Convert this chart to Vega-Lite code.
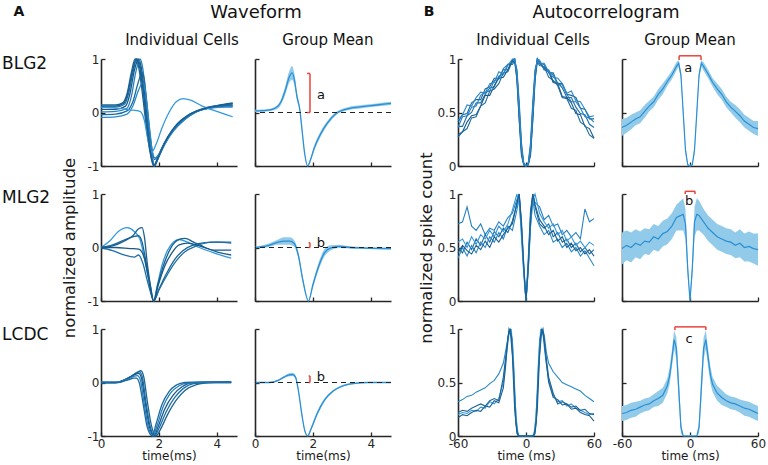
{
"$schema":"https://vega.github.io/schema/vega-lite/v6.json",
"background":"white",
"padding":{"left":2,"top":3,"right":5,"bottom":3},
"config":{"view":{"stroke":null},"font":"DejaVu Sans",
"axis":{"grid":false,"domainColor":"#262626","domainWidth":1.6,"tickColor":"#262626","tickWidth":1.3,"tickSize":-4,"labelColor":"#262626","labelFontSize":12,"labelFont":"DejaVu Sans","labelFlush":false,"labelOverlap":false,"labelBound":false,"titleFont":"DejaVu Sans","titleFontWeight":"normal","titleColor":"#1a1a1a","titleFontSize":12},
"axisX":{"titlePadding":1,"labelPadding":6},"axisY":{"titleFontSize":16.5,"labelPadding":6},"text":{"font":"DejaVu Sans"}},
"datasets":{
"w1":[
{"s":"c1","t":0,"v":0.14},{"s":"c1","t":0.5,"v":0.14},{"s":"c1","t":0.75,"v":0.18},{"s":"c1","t":0.9,"v":0.35},{"s":"c1","t":1.05,"v":0.75},{"s":"c1","t":1.18,"v":1.0},{"s":"c1","t":1.3,"v":0.85},{"s":"c1","t":1.42,"v":0.4},{"s":"c1","t":1.55,"v":-0.2},{"s":"c1","t":1.68,"v":-0.7},{"s":"c1","t":1.82,"v":-1.0},{"s":"c1","t":1.92,"v":-0.9},{"s":"c1","t":2.07,"v":-0.7},{"s":"c1","t":2.3,"v":-0.46},{"s":"c1","t":2.6,"v":-0.23},{"s":"c1","t":3.0,"v":-0.05},{"s":"c1","t":3.5,"v":0.07},{"s":"c1","t":4.0,"v":0.13},{"s":"c1","t":4.55,"v":0.18},
{"s":"c2","t":0,"v":0.1},{"s":"c2","t":0.5,"v":0.1},{"s":"c2","t":0.8,"v":0.15},{"s":"c2","t":0.95,"v":0.35},{"s":"c2","t":1.1,"v":0.75},{"s":"c2","t":1.24,"v":1.0},{"s":"c2","t":1.36,"v":0.85},{"s":"c2","t":1.48,"v":0.35},{"s":"c2","t":1.6,"v":-0.25},{"s":"c2","t":1.72,"v":-0.75},{"s":"c2","t":1.84,"v":-1.0},{"s":"c2","t":1.95,"v":-0.88},{"s":"c2","t":2.1,"v":-0.68},{"s":"c2","t":2.35,"v":-0.44},{"s":"c2","t":2.7,"v":-0.2},{"s":"c2","t":3.1,"v":-0.03},{"s":"c2","t":3.6,"v":0.08},{"s":"c2","t":4.1,"v":0.13},{"s":"c2","t":4.55,"v":0.16},
{"s":"c3","t":0,"v":0.06},{"s":"c3","t":0.5,"v":0.06},{"s":"c3","t":0.85,"v":0.12},{"s":"c3","t":1.0,"v":0.35},{"s":"c3","t":1.15,"v":0.78},{"s":"c3","t":1.3,"v":1.0},{"s":"c3","t":1.4,"v":0.82},{"s":"c3","t":1.5,"v":0.4},{"s":"c3","t":1.62,"v":-0.2},{"s":"c3","t":1.74,"v":-0.72},{"s":"c3","t":1.84,"v":-0.98},{"s":"c3","t":1.97,"v":-0.86},{"s":"c3","t":2.15,"v":-0.64},{"s":"c3","t":2.4,"v":-0.4},{"s":"c3","t":2.75,"v":-0.18},{"s":"c3","t":3.15,"v":-0.02},{"s":"c3","t":3.6,"v":0.07},{"s":"c3","t":4.1,"v":0.12},{"s":"c3","t":4.55,"v":0.14},
{"s":"c4","t":0,"v":0.01},{"s":"c4","t":0.5,"v":0.02},{"s":"c4","t":0.9,"v":0.08},{"s":"c4","t":1.05,"v":0.3},{"s":"c4","t":1.2,"v":0.75},{"s":"c4","t":1.35,"v":1.0},{"s":"c4","t":1.45,"v":0.8},{"s":"c4","t":1.55,"v":0.3},{"s":"c4","t":1.66,"v":-0.3},{"s":"c4","t":1.76,"v":-0.8},{"s":"c4","t":1.85,"v":-1.0},{"s":"c4","t":1.98,"v":-0.85},{"s":"c4","t":2.2,"v":-0.6},{"s":"c4","t":2.5,"v":-0.35},{"s":"c4","t":2.85,"v":-0.15},{"s":"c4","t":3.25,"v":0.0},{"s":"c4","t":3.7,"v":0.08},{"s":"c4","t":4.2,"v":0.12},{"s":"c4","t":4.55,"v":0.13},
{"s":"c5","t":0,"v":-0.04},{"s":"c5","t":0.5,"v":-0.03},{"s":"c5","t":0.9,"v":0.03},{"s":"c5","t":1.1,"v":0.2},{"s":"c5","t":1.28,"v":0.55},{"s":"c5","t":1.42,"v":0.75},{"s":"c5","t":1.5,"v":0.6},{"s":"c5","t":1.58,"v":0.2},{"s":"c5","t":1.68,"v":-0.35},{"s":"c5","t":1.78,"v":-0.75},{"s":"c5","t":1.85,"v":-0.88},{"s":"c5","t":1.98,"v":-0.8},{"s":"c5","t":2.2,"v":-0.58},{"s":"c5","t":2.5,"v":-0.33},{"s":"c5","t":2.9,"v":-0.12},{"s":"c5","t":3.3,"v":0.02},{"s":"c5","t":3.8,"v":0.09},{"s":"c5","t":4.3,"v":0.12},{"s":"c5","t":4.55,"v":0.12},
{"s":"c6","t":0,"v":-0.09},{"s":"c6","t":0.5,"v":-0.08},{"s":"c6","t":0.9,"v":-0.03},{"s":"c6","t":1.1,"v":0.12},{"s":"c6","t":1.3,"v":0.42},{"s":"c6","t":1.44,"v":0.56},{"s":"c6","t":1.52,"v":0.45},{"s":"c6","t":1.6,"v":0.1},{"s":"c6","t":1.7,"v":-0.4},{"s":"c6","t":1.8,"v":-0.8},{"s":"c6","t":1.87,"v":-0.85},{"s":"c6","t":2.0,"v":-0.78},{"s":"c6","t":2.2,"v":-0.58},{"s":"c6","t":2.5,"v":-0.34},{"s":"c6","t":2.9,"v":-0.13},{"s":"c6","t":3.3,"v":0.01},{"s":"c6","t":3.8,"v":0.08},{"s":"c6","t":4.3,"v":0.1},{"s":"c6","t":4.55,"v":0.1},
{"s":"c7","t":0,"v":0.1},{"s":"c7","t":0.5,"v":0.08},{"s":"c7","t":1.0,"v":0.05},{"s":"c7","t":1.35,"v":0.02},{"s":"c7","t":1.5,"v":-0.15},{"s":"c7","t":1.62,"v":-0.5},{"s":"c7","t":1.75,"v":-0.74},{"s":"c7","t":1.9,"v":-0.6},{"s":"c7","t":2.1,"v":-0.3},{"s":"c7","t":2.35,"v":0.0},{"s":"c7","t":2.6,"v":0.2},{"s":"c7","t":2.85,"v":0.26},{"s":"c7","t":3.1,"v":0.23},{"s":"c7","t":3.5,"v":0.12},{"s":"c7","t":4.0,"v":0.02},{"s":"c7","t":4.55,"v":-0.08},
{"s":"c8","t":0,"v":0.12},{"s":"c8","t":0.5,"v":0.12},{"s":"c8","t":0.78,"v":0.17},{"s":"c8","t":0.92,"v":0.35},{"s":"c8","t":1.08,"v":0.76},{"s":"c8","t":1.22,"v":1.0},{"s":"c8","t":1.34,"v":0.84},{"s":"c8","t":1.46,"v":0.37},{"s":"c8","t":1.58,"v":-0.22},{"s":"c8","t":1.7,"v":-0.72},{"s":"c8","t":1.83,"v":-1.0},{"s":"c8","t":1.94,"v":-0.89},{"s":"c8","t":2.09,"v":-0.69},{"s":"c8","t":2.32,"v":-0.45},{"s":"c8","t":2.65,"v":-0.21},{"s":"c8","t":3.05,"v":-0.04},{"s":"c8","t":3.55,"v":0.07},{"s":"c8","t":4.05,"v":0.13},{"s":"c8","t":4.55,"v":0.17}
],
"w1m":[
{"t":0,"m":0.03,"lo":0.01,"hi":0.05},{"t":0.4,"m":0.04,"lo":0.02,"hi":0.06},{"t":0.7,"m":0.08,"lo":0.05,"hi":0.11},{"t":0.9,"m":0.2,"lo":0.15,"hi":0.25},{"t":1.05,"m":0.42,"lo":0.34,"hi":0.5},{"t":1.18,"m":0.66,"lo":0.55,"hi":0.77},{"t":1.28,"m":0.74,"lo":0.61,"hi":0.87},{"t":1.36,"m":0.62,"lo":0.51,"hi":0.73},{"t":1.45,"m":0.3,"lo":0.23,"hi":0.37},{"t":1.55,"m":0.05,"lo":0.01,"hi":0.09},{"t":1.63,"m":-0.35,"lo":-0.38,"hi":-0.32},{"t":1.72,"m":-0.78,"lo":-0.8,"hi":-0.76},{"t":1.82,"m":-1.0,"lo":-1.0,"hi":-0.98},{"t":1.92,"m":-0.88,"lo":-0.91,"hi":-0.85},{"t":2.05,"m":-0.66,"lo":-0.71,"hi":-0.61},{"t":2.25,"m":-0.42,"lo":-0.47,"hi":-0.37},{"t":2.5,"m":-0.2,"lo":-0.24,"hi":-0.16},{"t":2.8,"m":-0.02,"lo":-0.05,"hi":0.01},{"t":3.2,"m":0.07,"lo":0.04,"hi":0.1},{"t":3.7,"m":0.11,"lo":0.08,"hi":0.14},{"t":4.2,"m":0.14,"lo":0.11,"hi":0.17},{"t":4.7,"m":0.17,"lo":0.14,"hi":0.2}
],
"w2":[
{"s":"e1","t":0,"v":0},{"s":"e1","t":0.3,"v":0.12},{"s":"e1","t":0.6,"v":0.3},{"s":"e1","t":0.9,"v":0.37},{"s":"e1","t":1.15,"v":0.3},{"s":"e1","t":1.35,"v":0.15},{"s":"e1","t":1.5,"v":-0.2},{"s":"e1","t":1.65,"v":-0.6},{"s":"e1","t":1.82,"v":-1.0},{"s":"e1","t":1.95,"v":-0.7},{"s":"e1","t":2.1,"v":-0.35},{"s":"e1","t":2.3,"v":-0.05},{"s":"e1","t":2.5,"v":0.1},{"s":"e1","t":2.7,"v":0.15},{"s":"e1","t":3.0,"v":0.1},{"s":"e1","t":3.4,"v":0.0},{"s":"e1","t":3.9,"v":-0.1},{"s":"e1","t":4.5,"v":-0.2},
{"s":"e2","t":0,"v":0},{"s":"e2","t":0.4,"v":0.03},{"s":"e2","t":0.8,"v":0.12},{"s":"e2","t":1.1,"v":0.22},{"s":"e2","t":1.3,"v":0.35},{"s":"e2","t":1.42,"v":0.37},{"s":"e2","t":1.5,"v":0.2},{"s":"e2","t":1.6,"v":-0.3},{"s":"e2","t":1.72,"v":-0.75},{"s":"e2","t":1.82,"v":-1.0},{"s":"e2","t":1.95,"v":-0.72},{"s":"e2","t":2.15,"v":-0.35},{"s":"e2","t":2.4,"v":-0.02},{"s":"e2","t":2.7,"v":0.15},{"s":"e2","t":2.9,"v":0.17},{"s":"e2","t":3.2,"v":0.1},{"s":"e2","t":3.6,"v":0.0},{"s":"e2","t":4.0,"v":-0.08},{"s":"e2","t":4.5,"v":-0.14},
{"s":"e3","t":0,"v":0},{"s":"e3","t":0.4,"v":0.05},{"s":"e3","t":0.8,"v":0.14},{"s":"e3","t":1.1,"v":0.2},{"s":"e3","t":1.3,"v":0.22},{"s":"e3","t":1.42,"v":0.1},{"s":"e3","t":1.55,"v":-0.25},{"s":"e3","t":1.7,"v":-0.7},{"s":"e3","t":1.82,"v":-1.0},{"s":"e3","t":2.0,"v":-0.78},{"s":"e3","t":2.25,"v":-0.5},{"s":"e3","t":2.55,"v":-0.22},{"s":"e3","t":2.85,"v":-0.05},{"s":"e3","t":3.2,"v":0.05},{"s":"e3","t":3.6,"v":0.09},{"s":"e3","t":4.0,"v":0.1},{"s":"e3","t":4.5,"v":0.08},
{"s":"e4","t":0,"v":0},{"s":"e4","t":0.4,"v":-0.06},{"s":"e4","t":0.8,"v":-0.14},{"s":"e4","t":1.15,"v":-0.18},{"s":"e4","t":1.3,"v":-0.14},{"s":"e4","t":1.45,"v":-0.3},{"s":"e4","t":1.6,"v":-0.62},{"s":"e4","t":1.72,"v":-0.85},{"s":"e4","t":1.82,"v":-1.0},{"s":"e4","t":2.0,"v":-0.8},{"s":"e4","t":2.3,"v":-0.5},{"s":"e4","t":2.6,"v":-0.25},{"s":"e4","t":2.9,"v":-0.08},{"s":"e4","t":3.3,"v":0.03},{"s":"e4","t":3.8,"v":0.1},{"s":"e4","t":4.5,"v":0.1},
{"s":"e5","t":0,"v":0},{"s":"e5","t":0.5,"v":0.0},{"s":"e5","t":1.0,"v":-0.02},{"s":"e5","t":1.3,"v":-0.03},{"s":"e5","t":1.5,"v":-0.2},{"s":"e5","t":1.65,"v":-0.6},{"s":"e5","t":1.82,"v":-1.0},{"s":"e5","t":1.98,"v":-0.7},{"s":"e5","t":2.2,"v":-0.35},{"s":"e5","t":2.45,"v":-0.1},{"s":"e5","t":2.7,"v":0.05},{"s":"e5","t":3.0,"v":0.08},{"s":"e5","t":3.4,"v":0.03},{"s":"e5","t":3.9,"v":-0.05},{"s":"e5","t":4.5,"v":-0.05}
],
"w2m":[
{"t":0,"m":0,"lo":-0.01,"hi":0.01},{"t":0.4,"m":0.03,"lo":0,"hi":0.06},{"t":0.8,"m":0.1,"lo":0.05,"hi":0.15},{"t":1.0,"m":0.12,"lo":0.05,"hi":0.19},{"t":1.2,"m":0.12,"lo":0.05,"hi":0.19},{"t":1.35,"m":0.08,"lo":0.02,"hi":0.14},{"t":1.5,"m":-0.15,"lo":-0.21,"hi":-0.09},{"t":1.65,"m":-0.6,"lo":-0.65,"hi":-0.55},{"t":1.85,"m":-1.0,"lo":-1.0,"hi":-0.98},{"t":2.0,"m":-0.7,"lo":-0.75,"hi":-0.65},{"t":2.2,"m":-0.35,"lo":-0.42,"hi":-0.28},{"t":2.4,"m":-0.1,"lo":-0.17,"hi":-0.03},{"t":2.6,"m":-0.01,"lo":-0.06,"hi":0.04},{"t":2.9,"m":0.02,"lo":-0.01,"hi":0.05},{"t":3.3,"m":0.0,"lo":-0.02,"hi":0.02},{"t":3.8,"m":-0.01,"lo":-0.03,"hi":0.01},{"t":4.7,"m":-0.02,"lo":-0.04,"hi":0.0}
],
"w3":[
{"s":"f1","t":0,"v":0},{"s":"f1","t":0.6,"v":0},{"s":"f1","t":0.9,"v":0.06},{"s":"f1","t":1.1,"v":0.13},{"s":"f1","t":1.28,"v":0.2},{"s":"f1","t":1.38,"v":0.22},{"s":"f1","t":1.48,"v":0.1},{"s":"f1","t":1.6,"v":-0.35},{"s":"f1","t":1.75,"v":-0.82},{"s":"f1","t":1.9,"v":-1.0},{"s":"f1","t":2.05,"v":-0.88},{"s":"f1","t":2.3,"v":-0.6},{"s":"f1","t":2.6,"v":-0.33},{"s":"f1","t":2.9,"v":-0.15},{"s":"f1","t":3.3,"v":-0.04},{"s":"f1","t":3.8,"v":0},{"s":"f1","t":4.5,"v":0.01},
{"s":"f2","t":0,"v":0},{"s":"f2","t":0.55,"v":0},{"s":"f2","t":0.85,"v":0.06},{"s":"f2","t":1.05,"v":0.12},{"s":"f2","t":1.22,"v":0.18},{"s":"f2","t":1.33,"v":0.2},{"s":"f2","t":1.43,"v":0.1},{"s":"f2","t":1.55,"v":-0.35},{"s":"f2","t":1.7,"v":-0.82},{"s":"f2","t":1.86,"v":-1.0},{"s":"f2","t":2.0,"v":-0.86},{"s":"f2","t":2.25,"v":-0.55},{"s":"f2","t":2.55,"v":-0.28},{"s":"f2","t":2.85,"v":-0.11},{"s":"f2","t":3.2,"v":-0.02},{"s":"f2","t":3.7,"v":0},{"s":"f2","t":4.5,"v":0},
{"s":"f3","t":0,"v":0},{"s":"f3","t":0.5,"v":0},{"s":"f3","t":0.8,"v":0.05},{"s":"f3","t":1.0,"v":0.1},{"s":"f3","t":1.18,"v":0.15},{"s":"f3","t":1.3,"v":0.17},{"s":"f3","t":1.4,"v":0.08},{"s":"f3","t":1.52,"v":-0.35},{"s":"f3","t":1.67,"v":-0.82},{"s":"f3","t":1.83,"v":-1.0},{"s":"f3","t":1.97,"v":-0.83},{"s":"f3","t":2.2,"v":-0.5},{"s":"f3","t":2.5,"v":-0.23},{"s":"f3","t":2.8,"v":-0.08},{"s":"f3","t":3.1,"v":-0.01},{"s":"f3","t":3.6,"v":0},{"s":"f3","t":4.5,"v":0},
{"s":"f4","t":0,"v":0},{"s":"f4","t":0.5,"v":0},{"s":"f4","t":0.8,"v":0.04},{"s":"f4","t":1.0,"v":0.08},{"s":"f4","t":1.15,"v":0.12},{"s":"f4","t":1.26,"v":0.13},{"s":"f4","t":1.36,"v":0.05},{"s":"f4","t":1.48,"v":-0.35},{"s":"f4","t":1.63,"v":-0.82},{"s":"f4","t":1.8,"v":-1.0},{"s":"f4","t":1.94,"v":-0.8},{"s":"f4","t":2.15,"v":-0.45},{"s":"f4","t":2.4,"v":-0.2},{"s":"f4","t":2.7,"v":-0.06},{"s":"f4","t":3.0,"v":-0.01},{"s":"f4","t":3.5,"v":0},{"s":"f4","t":4.5,"v":0.01},
{"s":"f5","t":0,"v":0},{"s":"f5","t":0.5,"v":0},{"s":"f5","t":0.8,"v":0.03},{"s":"f5","t":1.0,"v":0.06},{"s":"f5","t":1.12,"v":0.08},{"s":"f5","t":1.22,"v":0.08},{"s":"f5","t":1.32,"v":0},{"s":"f5","t":1.45,"v":-0.38},{"s":"f5","t":1.6,"v":-0.84},{"s":"f5","t":1.77,"v":-1.0},{"s":"f5","t":1.9,"v":-0.78},{"s":"f5","t":2.1,"v":-0.42},{"s":"f5","t":2.35,"v":-0.17},{"s":"f5","t":2.6,"v":-0.05},{"s":"f5","t":2.9,"v":0},{"s":"f5","t":3.4,"v":0.01},{"s":"f5","t":4.5,"v":0.01}
],
"w3m":[
{"t":0,"m":0,"lo":-0.01,"hi":0.01},{"t":0.5,"m":0,"lo":-0.01,"hi":0.01},{"t":0.8,"m":0.04,"lo":0.025,"hi":0.055},{"t":1.0,"m":0.1,"lo":0.08,"hi":0.12},{"t":1.15,"m":0.14,"lo":0.11,"hi":0.17},{"t":1.3,"m":0.15,"lo":0.12,"hi":0.18},{"t":1.4,"m":0.1,"lo":0.07,"hi":0.13},{"t":1.5,"m":-0.15,"lo":-0.18,"hi":-0.12},{"t":1.62,"m":-0.6,"lo":-0.63,"hi":-0.57},{"t":1.72,"m":-0.9,"lo":-0.92,"hi":-0.88},{"t":1.82,"m":-1.0,"lo":-1.0,"hi":-0.98},{"t":1.95,"m":-0.85,"lo":-0.88,"hi":-0.82},{"t":2.15,"m":-0.58,"lo":-0.62,"hi":-0.54},{"t":2.4,"m":-0.33,"lo":-0.36,"hi":-0.3},{"t":2.7,"m":-0.16,"lo":-0.18,"hi":-0.14},{"t":3.0,"m":-0.07,"lo":-0.09,"hi":-0.05},{"t":3.4,"m":-0.02,"lo":-0.035,"hi":-0.005},{"t":3.9,"m":0,"lo":-0.01,"hi":0.01},{"t":4.7,"m":0,"lo":-0.01,"hi":0.01}
],
"a1":[
{"s":"a1","t":-60,"v":0.41},{"s":"a1","t":-56,"v":0.48},{"s":"a1","t":-52,"v":0.49},{"s":"a1","t":-48,"v":0.59},{"s":"a1","t":-44,"v":0.62},{"s":"a1","t":-40,"v":0.62},{"s":"a1","t":-36,"v":0.72},{"s":"a1","t":-32,"v":0.74},{"s":"a1","t":-28,"v":0.82},{"s":"a1","t":-24,"v":0.82},{"s":"a1","t":-20,"v":0.9},{"s":"a1","t":-16,"v":0.9},{"s":"a1","t":-12,"v":0.99},{"s":"a1","t":-10,"v":1.0},{"s":"a1","t":-8,"v":0.85},{"s":"a1","t":-6,"v":0.5},{"s":"a1","t":-4,"v":0.15},{"s":"a1","t":-2,"v":0.02},{"s":"a1","t":0,"v":0},{"s":"a1","t":2,"v":0.02},{"s":"a1","t":4,"v":0.15},{"s":"a1","t":6,"v":0.5},{"s":"a1","t":8,"v":0.85},{"s":"a1","t":10,"v":1.0},{"s":"a1","t":12,"v":0.96},{"s":"a1","t":16,"v":0.95},{"s":"a1","t":20,"v":0.87},{"s":"a1","t":24,"v":0.87},{"s":"a1","t":28,"v":0.77},{"s":"a1","t":32,"v":0.77},{"s":"a1","t":36,"v":0.67},{"s":"a1","t":40,"v":0.66},{"s":"a1","t":44,"v":0.64},{"s":"a1","t":48,"v":0.54},{"s":"a1","t":52,"v":0.53},{"s":"a1","t":56,"v":0.44},{"s":"a1","t":60,"v":0.44},
{"s":"a2","t":-60,"v":0.37},{"s":"a2","t":-56,"v":0.37},{"s":"a2","t":-52,"v":0.47},{"s":"a2","t":-48,"v":0.5},{"s":"a2","t":-44,"v":0.59},{"s":"a2","t":-40,"v":0.59},{"s":"a2","t":-36,"v":0.67},{"s":"a2","t":-32,"v":0.73},{"s":"a2","t":-28,"v":0.74},{"s":"a2","t":-24,"v":0.84},{"s":"a2","t":-20,"v":0.86},{"s":"a2","t":-16,"v":0.95},{"s":"a2","t":-12,"v":0.95},{"s":"a2","t":-10,"v":0.98},{"s":"a2","t":-8,"v":0.9},{"s":"a2","t":-6,"v":0.6},{"s":"a2","t":-4,"v":0.22},{"s":"a2","t":-2,"v":0.03},{"s":"a2","t":0,"v":0},{"s":"a2","t":2,"v":0.03},{"s":"a2","t":4,"v":0.22},{"s":"a2","t":6,"v":0.6},{"s":"a2","t":8,"v":0.9},{"s":"a2","t":10,"v":0.98},{"s":"a2","t":12,"v":0.98},{"s":"a2","t":16,"v":0.9},{"s":"a2","t":20,"v":0.9},{"s":"a2","t":24,"v":0.79},{"s":"a2","t":28,"v":0.78},{"s":"a2","t":32,"v":0.73},{"s":"a2","t":36,"v":0.64},{"s":"a2","t":40,"v":0.64},{"s":"a2","t":44,"v":0.55},{"s":"a2","t":48,"v":0.49},{"s":"a2","t":52,"v":0.48},{"s":"a2","t":56,"v":0.39},{"s":"a2","t":60,"v":0.36},
{"s":"a3","t":-60,"v":0.29},{"s":"a3","t":-56,"v":0.32},{"s":"a3","t":-52,"v":0.41},{"s":"a3","t":-48,"v":0.47},{"s":"a3","t":-44,"v":0.48},{"s":"a3","t":-40,"v":0.56},{"s":"a3","t":-36,"v":0.66},{"s":"a3","t":-32,"v":0.66},{"s":"a3","t":-28,"v":0.75},{"s":"a3","t":-24,"v":0.82},{"s":"a3","t":-20,"v":0.83},{"s":"a3","t":-16,"v":0.9},{"s":"a3","t":-12,"v":0.99},{"s":"a3","t":-10,"v":1.0},{"s":"a3","t":-8,"v":0.8},{"s":"a3","t":-6,"v":0.42},{"s":"a3","t":-4,"v":0.1},{"s":"a3","t":-2,"v":0.01},{"s":"a3","t":0,"v":0},{"s":"a3","t":2,"v":0.01},{"s":"a3","t":4,"v":0.1},{"s":"a3","t":6,"v":0.42},{"s":"a3","t":8,"v":0.8},{"s":"a3","t":10,"v":1.0},{"s":"a3","t":12,"v":0.96},{"s":"a3","t":16,"v":0.92},{"s":"a3","t":20,"v":0.88},{"s":"a3","t":24,"v":0.78},{"s":"a3","t":28,"v":0.77},{"s":"a3","t":32,"v":0.65},{"s":"a3","t":36,"v":0.64},{"s":"a3","t":40,"v":0.59},{"s":"a3","t":44,"v":0.49},{"s":"a3","t":48,"v":0.48},{"s":"a3","t":52,"v":0.37},{"s":"a3","t":56,"v":0.35},{"s":"a3","t":60,"v":0.26},
{"s":"a4","t":-60,"v":0.36},{"s":"a4","t":-56,"v":0.46},{"s":"a4","t":-52,"v":0.47},{"s":"a4","t":-48,"v":0.55},{"s":"a4","t":-44,"v":0.56},{"s":"a4","t":-40,"v":0.66},{"s":"a4","t":-36,"v":0.69},{"s":"a4","t":-32,"v":0.7},{"s":"a4","t":-28,"v":0.8},{"s":"a4","t":-24,"v":0.81},{"s":"a4","t":-20,"v":0.91},{"s":"a4","t":-16,"v":0.95},{"s":"a4","t":-12,"v":0.97},{"s":"a4","t":-10,"v":1.0},{"s":"a4","t":-8,"v":0.88},{"s":"a4","t":-6,"v":0.55},{"s":"a4","t":-4,"v":0.18},{"s":"a4","t":-2,"v":0.02},{"s":"a4","t":0,"v":0},{"s":"a4","t":2,"v":0.02},{"s":"a4","t":4,"v":0.18},{"s":"a4","t":6,"v":0.55},{"s":"a4","t":8,"v":0.88},{"s":"a4","t":10,"v":1.0},{"s":"a4","t":12,"v":0.99},{"s":"a4","t":16,"v":0.9},{"s":"a4","t":20,"v":0.89},{"s":"a4","t":24,"v":0.85},{"s":"a4","t":28,"v":0.76},{"s":"a4","t":32,"v":0.76},{"s":"a4","t":36,"v":0.67},{"s":"a4","t":40,"v":0.6},{"s":"a4","t":44,"v":0.6},{"s":"a4","t":48,"v":0.54},{"s":"a4","t":52,"v":0.46},{"s":"a4","t":56,"v":0.45},{"s":"a4","t":60,"v":0.41},
{"s":"a5","t":-60,"v":0.27},{"s":"a5","t":-56,"v":0.32},{"s":"a5","t":-52,"v":0.35},{"s":"a5","t":-48,"v":0.45},{"s":"a5","t":-44,"v":0.46},{"s":"a5","t":-40,"v":0.56},{"s":"a5","t":-36,"v":0.59},{"s":"a5","t":-32,"v":0.7},{"s":"a5","t":-28,"v":0.72},{"s":"a5","t":-24,"v":0.77},{"s":"a5","t":-20,"v":0.87},{"s":"a5","t":-16,"v":0.88},{"s":"a5","t":-12,"v":0.98},{"s":"a5","t":-10,"v":0.97},{"s":"a5","t":-8,"v":0.82},{"s":"a5","t":-6,"v":0.45},{"s":"a5","t":-4,"v":0.12},{"s":"a5","t":-2,"v":0.01},{"s":"a5","t":0,"v":0},{"s":"a5","t":2,"v":0.01},{"s":"a5","t":4,"v":0.12},{"s":"a5","t":6,"v":0.45},{"s":"a5","t":8,"v":0.82},{"s":"a5","t":10,"v":0.97},{"s":"a5","t":12,"v":0.94},{"s":"a5","t":16,"v":0.93},{"s":"a5","t":20,"v":0.83},{"s":"a5","t":24,"v":0.8},{"s":"a5","t":28,"v":0.75},{"s":"a5","t":32,"v":0.64},{"s":"a5","t":36,"v":0.63},{"s":"a5","t":40,"v":0.54},{"s":"a5","t":44,"v":0.52},{"s":"a5","t":48,"v":0.41},{"s":"a5","t":52,"v":0.38},{"s":"a5","t":56,"v":0.29},{"s":"a5","t":60,"v":0.26},
{"s":"a6","t":-60,"v":0.43},{"s":"a6","t":-56,"v":0.48},{"s":"a6","t":-52,"v":0.57},{"s":"a6","t":-48,"v":0.56},{"s":"a6","t":-44,"v":0.64},{"s":"a6","t":-40,"v":0.69},{"s":"a6","t":-36,"v":0.68},{"s":"a6","t":-32,"v":0.77},{"s":"a6","t":-28,"v":0.78},{"s":"a6","t":-24,"v":0.88},{"s":"a6","t":-20,"v":0.86},{"s":"a6","t":-16,"v":0.94},{"s":"a6","t":-12,"v":1.0},{"s":"a6","t":-10,"v":1.0},{"s":"a6","t":-8,"v":0.86},{"s":"a6","t":-6,"v":0.52},{"s":"a6","t":-4,"v":0.16},{"s":"a6","t":-2,"v":0.02},{"s":"a6","t":0,"v":0},{"s":"a6","t":2,"v":0.02},{"s":"a6","t":4,"v":0.16},{"s":"a6","t":6,"v":0.52},{"s":"a6","t":8,"v":0.86},{"s":"a6","t":10,"v":1.0},{"s":"a6","t":12,"v":0.96},{"s":"a6","t":16,"v":0.96},{"s":"a6","t":20,"v":0.88},{"s":"a6","t":24,"v":0.83},{"s":"a6","t":28,"v":0.82},{"s":"a6","t":32,"v":0.77},{"s":"a6","t":36,"v":0.68},{"s":"a6","t":40,"v":0.7},{"s":"a6","t":44,"v":0.61},{"s":"a6","t":48,"v":0.6},{"s":"a6","t":52,"v":0.53},{"s":"a6","t":56,"v":0.46},{"s":"a6","t":60,"v":0.47}
],
"a1m":[
{"t":-60,"m":0.36,"lo":0.28,"hi":0.44},{"t":-56,"m":0.38,"lo":0.31,"hi":0.45},{"t":-52,"m":0.41,"lo":0.34,"hi":0.48},{"t":-48,"m":0.44,"lo":0.38,"hi":0.5},{"t":-44,"m":0.46,"lo":0.4,"hi":0.52},{"t":-40,"m":0.51,"lo":0.45,"hi":0.57},{"t":-36,"m":0.56,"lo":0.51,"hi":0.61},{"t":-32,"m":0.6,"lo":0.55,"hi":0.65},{"t":-28,"m":0.67,"lo":0.62,"hi":0.72},{"t":-24,"m":0.72,"lo":0.67,"hi":0.77},{"t":-20,"m":0.79,"lo":0.75,"hi":0.83},{"t":-16,"m":0.85,"lo":0.81,"hi":0.89},{"t":-12,"m":0.93,"lo":0.89,"hi":0.97},{"t":-10,"m":0.96,"lo":0.93,"hi":0.99},{"t":-8,"m":0.85,"lo":0.81,"hi":0.89},{"t":-6,"m":0.5,"lo":0.45,"hi":0.55},{"t":-4,"m":0.15,"lo":0.11,"hi":0.19},{"t":-2,"m":0.01,"lo":0,"hi":0.02},{"t":0,"m":0,"lo":0,"hi":0.01},{"t":2,"m":0.01,"lo":0,"hi":0.02},{"t":4,"m":0.15,"lo":0.11,"hi":0.19},{"t":6,"m":0.5,"lo":0.45,"hi":0.55},{"t":8,"m":0.85,"lo":0.81,"hi":0.89},{"t":10,"m":0.96,"lo":0.93,"hi":0.99},{"t":12,"m":0.93,"lo":0.89,"hi":0.97},{"t":16,"m":0.86,"lo":0.82,"hi":0.9},{"t":20,"m":0.78,"lo":0.74,"hi":0.82},{"t":24,"m":0.72,"lo":0.67,"hi":0.77},{"t":28,"m":0.67,"lo":0.62,"hi":0.72},{"t":32,"m":0.6,"lo":0.55,"hi":0.65},{"t":36,"m":0.55,"lo":0.5,"hi":0.6},{"t":40,"m":0.51,"lo":0.45,"hi":0.57},{"t":44,"m":0.47,"lo":0.41,"hi":0.53},{"t":48,"m":0.42,"lo":0.36,"hi":0.48},{"t":52,"m":0.39,"lo":0.33,"hi":0.45},{"t":56,"m":0.36,"lo":0.3,"hi":0.42},{"t":60,"m":0.35,"lo":0.28,"hi":0.42}
],
"a2":[
{"s":"b1","t":-60,"v":0.72},{"s":"b1","t":-56,"v":0.74},{"s":"b1","t":-52,"v":0.88},{"s":"b1","t":-48,"v":0.7},{"s":"b1","t":-44,"v":0.66},{"s":"b1","t":-40,"v":0.72},{"s":"b1","t":-36,"v":0.62},{"s":"b1","t":-32,"v":0.68},{"s":"b1","t":-28,"v":0.66},{"s":"b1","t":-24,"v":0.74},{"s":"b1","t":-20,"v":0.7},{"s":"b1","t":-16,"v":0.78},{"s":"b1","t":-12,"v":0.82},{"s":"b1","t":-8,"v":0.95},{"s":"b1","t":-6,"v":1.0},{"s":"b1","t":-4,"v":0.7},{"s":"b1","t":-2,"v":0.3},{"s":"b1","t":0,"v":0},{"s":"b1","t":2,"v":0.35},{"s":"b1","t":4,"v":0.8},{"s":"b1","t":6,"v":1.0},{"s":"b1","t":8,"v":0.92},{"s":"b1","t":12,"v":0.88},{"s":"b1","t":16,"v":0.76},{"s":"b1","t":20,"v":0.8},{"s":"b1","t":24,"v":0.7},{"s":"b1","t":28,"v":0.72},{"s":"b1","t":32,"v":0.62},{"s":"b1","t":36,"v":0.66},{"s":"b1","t":40,"v":0.6},{"s":"b1","t":44,"v":0.64},{"s":"b1","t":48,"v":0.58},{"s":"b1","t":52,"v":0.86},{"s":"b1","t":56,"v":0.74},{"s":"b1","t":60,"v":0.77},
{"s":"b2","t":-60,"v":0.5},{"s":"b2","t":-56,"v":0.45},{"s":"b2","t":-52,"v":0.55},{"s":"b2","t":-48,"v":0.48},{"s":"b2","t":-44,"v":0.58},{"s":"b2","t":-40,"v":0.52},{"s":"b2","t":-36,"v":0.62},{"s":"b2","t":-32,"v":0.55},{"s":"b2","t":-28,"v":0.65},{"s":"b2","t":-24,"v":0.6},{"s":"b2","t":-20,"v":0.68},{"s":"b2","t":-16,"v":0.64},{"s":"b2","t":-12,"v":0.75},{"s":"b2","t":-8,"v":0.9},{"s":"b2","t":-6,"v":1.0},{"s":"b2","t":-4,"v":0.75},{"s":"b2","t":-2,"v":0.35},{"s":"b2","t":0,"v":0},{"s":"b2","t":2,"v":0.4},{"s":"b2","t":4,"v":0.85},{"s":"b2","t":6,"v":1.0},{"s":"b2","t":8,"v":0.88},{"s":"b2","t":12,"v":0.72},{"s":"b2","t":16,"v":0.68},{"s":"b2","t":20,"v":0.72},{"s":"b2","t":24,"v":0.6},{"s":"b2","t":28,"v":0.64},{"s":"b2","t":32,"v":0.55},{"s":"b2","t":36,"v":0.58},{"s":"b2","t":40,"v":0.5},{"s":"b2","t":44,"v":0.54},{"s":"b2","t":48,"v":0.46},{"s":"b2","t":52,"v":0.5},{"s":"b2","t":56,"v":0.44},{"s":"b2","t":60,"v":0.48},
{"s":"b3","t":-60,"v":0.4},{"s":"b3","t":-56,"v":0.5},{"s":"b3","t":-52,"v":0.42},{"s":"b3","t":-48,"v":0.52},{"s":"b3","t":-44,"v":0.45},{"s":"b3","t":-40,"v":0.55},{"s":"b3","t":-36,"v":0.5},{"s":"b3","t":-32,"v":0.6},{"s":"b3","t":-28,"v":0.55},{"s":"b3","t":-24,"v":0.64},{"s":"b3","t":-20,"v":0.58},{"s":"b3","t":-16,"v":0.7},{"s":"b3","t":-12,"v":0.66},{"s":"b3","t":-8,"v":0.85},{"s":"b3","t":-6,"v":0.98},{"s":"b3","t":-4,"v":0.6},{"s":"b3","t":-2,"v":0.25},{"s":"b3","t":0,"v":0},{"s":"b3","t":2,"v":0.3},{"s":"b3","t":4,"v":0.7},{"s":"b3","t":6,"v":0.95},{"s":"b3","t":8,"v":0.8},{"s":"b3","t":12,"v":0.7},{"s":"b3","t":16,"v":0.62},{"s":"b3","t":20,"v":0.66},{"s":"b3","t":24,"v":0.55},{"s":"b3","t":28,"v":0.58},{"s":"b3","t":32,"v":0.5},{"s":"b3","t":36,"v":0.54},{"s":"b3","t":40,"v":0.46},{"s":"b3","t":44,"v":0.5},{"s":"b3","t":48,"v":0.42},{"s":"b3","t":52,"v":0.47},{"s":"b3","t":56,"v":0.4},{"s":"b3","t":60,"v":0.33},
{"s":"b4","t":-60,"v":0.55},{"s":"b4","t":-56,"v":0.58},{"s":"b4","t":-52,"v":0.5},{"s":"b4","t":-48,"v":0.6},{"s":"b4","t":-44,"v":0.53},{"s":"b4","t":-40,"v":0.62},{"s":"b4","t":-36,"v":0.58},{"s":"b4","t":-32,"v":0.66},{"s":"b4","t":-28,"v":0.6},{"s":"b4","t":-24,"v":0.7},{"s":"b4","t":-20,"v":0.65},{"s":"b4","t":-16,"v":0.72},{"s":"b4","t":-12,"v":0.85},{"s":"b4","t":-8,"v":1.0},{"s":"b4","t":-6,"v":0.9},{"s":"b4","t":-4,"v":0.65},{"s":"b4","t":-2,"v":0.3},{"s":"b4","t":0,"v":0},{"s":"b4","t":2,"v":0.28},{"s":"b4","t":4,"v":0.7},{"s":"b4","t":6,"v":0.95},{"s":"b4","t":8,"v":1.0},{"s":"b4","t":12,"v":0.82},{"s":"b4","t":16,"v":0.74},{"s":"b4","t":20,"v":0.68},{"s":"b4","t":24,"v":0.72},{"s":"b4","t":28,"v":0.62},{"s":"b4","t":32,"v":0.66},{"s":"b4","t":36,"v":0.56},{"s":"b4","t":40,"v":0.6},{"s":"b4","t":44,"v":0.52},{"s":"b4","t":48,"v":0.56},{"s":"b4","t":52,"v":0.5},{"s":"b4","t":56,"v":0.55},{"s":"b4","t":60,"v":0.52},
{"s":"b5","t":-60,"v":0.45},{"s":"b5","t":-56,"v":0.52},{"s":"b5","t":-52,"v":0.47},{"s":"b5","t":-48,"v":0.44},{"s":"b5","t":-44,"v":0.52},{"s":"b5","t":-40,"v":0.48},{"s":"b5","t":-36,"v":0.56},{"s":"b5","t":-32,"v":0.5},{"s":"b5","t":-28,"v":0.6},{"s":"b5","t":-24,"v":0.55},{"s":"b5","t":-20,"v":0.62},{"s":"b5","t":-16,"v":0.68},{"s":"b5","t":-12,"v":0.72},{"s":"b5","t":-8,"v":0.92},{"s":"b5","t":-6,"v":1.0},{"s":"b5","t":-4,"v":0.7},{"s":"b5","t":-2,"v":0.32},{"s":"b5","t":0,"v":0},{"s":"b5","t":2,"v":0.32},{"s":"b5","t":4,"v":0.75},{"s":"b5","t":6,"v":1.0},{"s":"b5","t":8,"v":0.9},{"s":"b5","t":12,"v":0.76},{"s":"b5","t":16,"v":0.7},{"s":"b5","t":20,"v":0.62},{"s":"b5","t":24,"v":0.66},{"s":"b5","t":28,"v":0.56},{"s":"b5","t":32,"v":0.6},{"s":"b5","t":36,"v":0.5},{"s":"b5","t":40,"v":0.54},{"s":"b5","t":44,"v":0.47},{"s":"b5","t":48,"v":0.5},{"s":"b5","t":52,"v":0.44},{"s":"b5","t":56,"v":0.48},{"s":"b5","t":60,"v":0.42}
],
"a2m":[
{"t":-60,"m":0.49,"lo":0.34,"hi":0.64},{"t":-56,"m":0.52,"lo":0.38,"hi":0.66},{"t":-52,"m":0.5,"lo":0.36,"hi":0.64},{"t":-48,"m":0.54,"lo":0.41,"hi":0.67},{"t":-44,"m":0.52,"lo":0.39,"hi":0.65},{"t":-40,"m":0.56,"lo":0.44,"hi":0.68},{"t":-36,"m":0.55,"lo":0.43,"hi":0.67},{"t":-32,"m":0.6,"lo":0.48,"hi":0.72},{"t":-28,"m":0.58,"lo":0.46,"hi":0.7},{"t":-24,"m":0.63,"lo":0.51,"hi":0.75},{"t":-20,"m":0.65,"lo":0.53,"hi":0.77},{"t":-16,"m":0.7,"lo":0.58,"hi":0.82},{"t":-12,"m":0.78,"lo":0.66,"hi":0.9},{"t":-8,"m":0.8,"lo":0.66,"hi":0.94},{"t":-6,"m":0.81,"lo":0.66,"hi":0.96},{"t":-4,"m":0.72,"lo":0.58,"hi":0.86},{"t":-2,"m":0.3,"lo":0.22,"hi":0.38},{"t":0,"m":0,"lo":0,"hi":0.01},{"t":2,"m":0.3,"lo":0.22,"hi":0.38},{"t":4,"m":0.74,"lo":0.6,"hi":0.88},{"t":6,"m":0.81,"lo":0.66,"hi":0.96},{"t":8,"m":0.8,"lo":0.66,"hi":0.94},{"t":12,"m":0.74,"lo":0.62,"hi":0.86},{"t":16,"m":0.68,"lo":0.56,"hi":0.8},{"t":20,"m":0.64,"lo":0.52,"hi":0.76},{"t":24,"m":0.6,"lo":0.48,"hi":0.72},{"t":28,"m":0.58,"lo":0.46,"hi":0.7},{"t":32,"m":0.56,"lo":0.44,"hi":0.68},{"t":36,"m":0.55,"lo":0.43,"hi":0.67},{"t":40,"m":0.52,"lo":0.4,"hi":0.64},{"t":44,"m":0.54,"lo":0.41,"hi":0.67},{"t":48,"m":0.5,"lo":0.37,"hi":0.63},{"t":52,"m":0.51,"lo":0.37,"hi":0.65},{"t":56,"m":0.49,"lo":0.35,"hi":0.63},{"t":60,"m":0.48,"lo":0.33,"hi":0.63}
],
"a3":[
{"s":"d","t":-60,"v":0.32},{"s":"d","t":-56,"v":0.34},{"s":"d","t":-52,"v":0.37},{"s":"d","t":-48,"v":0.38},{"s":"d","t":-44,"v":0.41},{"s":"d","t":-40,"v":0.43},{"s":"d","t":-36,"v":0.45},{"s":"d","t":-32,"v":0.49},{"s":"d","t":-28,"v":0.52},{"s":"d","t":-24,"v":0.58},{"s":"d","t":-20,"v":0.68},{"s":"d","t":-17,"v":0.85},{"s":"d","t":-15,"v":0.98},{"s":"d","t":-14,"v":1.0},{"s":"d","t":-12,"v":0.9},{"s":"d","t":-10,"v":0.4},{"s":"d","t":-8,"v":0.05},{"s":"d","t":-6,"v":0},{"s":"d","t":0,"v":0},{"s":"d","t":6,"v":0},{"s":"d","t":8,"v":0.05},{"s":"d","t":10,"v":0.4},{"s":"d","t":12,"v":0.9},{"s":"d","t":14,"v":1.0},{"s":"d","t":16,"v":0.95},{"s":"d","t":18,"v":0.78},{"s":"d","t":20,"v":0.68},{"s":"d","t":24,"v":0.6},{"s":"d","t":28,"v":0.55},{"s":"d","t":32,"v":0.5},{"s":"d","t":36,"v":0.48},{"s":"d","t":40,"v":0.46},{"s":"d","t":44,"v":0.44},{"s":"d","t":48,"v":0.42},{"s":"d","t":52,"v":0.38},{"s":"d","t":56,"v":0.35},{"s":"d","t":60,"v":0.32},
{"s":"l1","t":-60,"v":0.2},{"s":"l1","t":-56,"v":0.22},{"s":"l1","t":-52,"v":0.21},{"s":"l1","t":-48,"v":0.24},{"s":"l1","t":-44,"v":0.23},{"s":"l1","t":-40,"v":0.27},{"s":"l1","t":-36,"v":0.26},{"s":"l1","t":-32,"v":0.32},{"s":"l1","t":-28,"v":0.3},{"s":"l1","t":-24,"v":0.35},{"s":"l1","t":-20,"v":0.5},{"s":"l1","t":-17,"v":0.78},{"s":"l1","t":-15,"v":0.95},{"s":"l1","t":-13,"v":1.0},{"s":"l1","t":-11,"v":0.7},{"s":"l1","t":-9,"v":0.2},{"s":"l1","t":-7,"v":0.01},{"s":"l1","t":-5,"v":0},{"s":"l1","t":0,"v":0},{"s":"l1","t":5,"v":0},{"s":"l1","t":7,"v":0.01},{"s":"l1","t":9,"v":0.2},{"s":"l1","t":11,"v":0.7},{"s":"l1","t":13,"v":1.0},{"s":"l1","t":15,"v":0.95},{"s":"l1","t":17,"v":0.75},{"s":"l1","t":20,"v":0.52},{"s":"l1","t":24,"v":0.38},{"s":"l1","t":28,"v":0.32},{"s":"l1","t":32,"v":0.33},{"s":"l1","t":36,"v":0.28},{"s":"l1","t":40,"v":0.3},{"s":"l1","t":44,"v":0.26},{"s":"l1","t":48,"v":0.24},{"s":"l1","t":52,"v":0.22},{"s":"l1","t":56,"v":0.2},{"s":"l1","t":60,"v":0.21},
{"s":"l2","t":-60,"v":0.17},{"s":"l2","t":-56,"v":0.2},{"s":"l2","t":-52,"v":0.19},{"s":"l2","t":-48,"v":0.22},{"s":"l2","t":-44,"v":0.24},{"s":"l2","t":-40,"v":0.23},{"s":"l2","t":-36,"v":0.28},{"s":"l2","t":-32,"v":0.27},{"s":"l2","t":-28,"v":0.33},{"s":"l2","t":-24,"v":0.31},{"s":"l2","t":-20,"v":0.45},{"s":"l2","t":-18,"v":0.65},{"s":"l2","t":-16,"v":0.92},{"s":"l2","t":-14,"v":1.0},{"s":"l2","t":-12,"v":0.75},{"s":"l2","t":-10,"v":0.25},{"s":"l2","t":-8,"v":0.02},{"s":"l2","t":-6,"v":0},{"s":"l2","t":0,"v":0},{"s":"l2","t":6,"v":0},{"s":"l2","t":8,"v":0.02},{"s":"l2","t":10,"v":0.25},{"s":"l2","t":12,"v":0.75},{"s":"l2","t":14,"v":1.0},{"s":"l2","t":16,"v":0.9},{"s":"l2","t":18,"v":0.68},{"s":"l2","t":20,"v":0.5},{"s":"l2","t":24,"v":0.36},{"s":"l2","t":28,"v":0.34},{"s":"l2","t":32,"v":0.29},{"s":"l2","t":36,"v":0.3},{"s":"l2","t":40,"v":0.25},{"s":"l2","t":44,"v":0.26},{"s":"l2","t":48,"v":0.22},{"s":"l2","t":52,"v":0.2},{"s":"l2","t":56,"v":0.19},{"s":"l2","t":60,"v":0.14},
{"s":"l3","t":-60,"v":0.22},{"s":"l3","t":-56,"v":0.24},{"s":"l3","t":-52,"v":0.23},{"s":"l3","t":-48,"v":0.26},{"s":"l3","t":-44,"v":0.28},{"s":"l3","t":-40,"v":0.3},{"s":"l3","t":-36,"v":0.28},{"s":"l3","t":-32,"v":0.33},{"s":"l3","t":-28,"v":0.35},{"s":"l3","t":-24,"v":0.33},{"s":"l3","t":-20,"v":0.55},{"s":"l3","t":-17,"v":0.82},{"s":"l3","t":-15,"v":1.0},{"s":"l3","t":-13,"v":0.95},{"s":"l3","t":-11,"v":0.6},{"s":"l3","t":-9,"v":0.12},{"s":"l3","t":-7,"v":0},{"s":"l3","t":0,"v":0},{"s":"l3","t":7,"v":0},{"s":"l3","t":9,"v":0.12},{"s":"l3","t":11,"v":0.6},{"s":"l3","t":13,"v":0.95},{"s":"l3","t":15,"v":1.0},{"s":"l3","t":17,"v":0.8},{"s":"l3","t":20,"v":0.55},{"s":"l3","t":24,"v":0.4},{"s":"l3","t":28,"v":0.3},{"s":"l3","t":32,"v":0.32},{"s":"l3","t":36,"v":0.3},{"s":"l3","t":40,"v":0.27},{"s":"l3","t":44,"v":0.28},{"s":"l3","t":48,"v":0.24},{"s":"l3","t":52,"v":0.25},{"s":"l3","t":56,"v":0.21},{"s":"l3","t":60,"v":0.2}
],
"a3m":[
{"t":-60,"m":0.21,"lo":0.14,"hi":0.28},{"t":-56,"m":0.22,"lo":0.15,"hi":0.29},{"t":-52,"m":0.24,"lo":0.17,"hi":0.31},{"t":-48,"m":0.25,"lo":0.18,"hi":0.32},{"t":-44,"m":0.27,"lo":0.21,"hi":0.33},{"t":-40,"m":0.29,"lo":0.23,"hi":0.35},{"t":-36,"m":0.3,"lo":0.24,"hi":0.36},{"t":-32,"m":0.33,"lo":0.27,"hi":0.39},{"t":-28,"m":0.35,"lo":0.28,"hi":0.42},{"t":-24,"m":0.38,"lo":0.31,"hi":0.45},{"t":-20,"m":0.47,"lo":0.4,"hi":0.54},{"t":-18,"m":0.56,"lo":0.48,"hi":0.64},{"t":-16,"m":0.72,"lo":0.64,"hi":0.8},{"t":-14,"m":0.9,"lo":0.81,"hi":0.99},{"t":-12,"m":0.82,"lo":0.72,"hi":0.92},{"t":-10,"m":0.45,"lo":0.33,"hi":0.57},{"t":-8,"m":0.08,"lo":0.02,"hi":0.14},{"t":-6,"m":0,"lo":0,"hi":0.01},{"t":0,"m":0,"lo":0,"hi":0.01},{"t":6,"m":0,"lo":0,"hi":0.01},{"t":8,"m":0.08,"lo":0.02,"hi":0.14},{"t":10,"m":0.45,"lo":0.33,"hi":0.57},{"t":12,"m":0.82,"lo":0.72,"hi":0.92},{"t":14,"m":0.9,"lo":0.81,"hi":0.99},{"t":16,"m":0.73,"lo":0.65,"hi":0.81},{"t":18,"m":0.57,"lo":0.49,"hi":0.65},{"t":20,"m":0.48,"lo":0.41,"hi":0.55},{"t":24,"m":0.4,"lo":0.33,"hi":0.47},{"t":28,"m":0.36,"lo":0.29,"hi":0.43},{"t":32,"m":0.33,"lo":0.27,"hi":0.39},{"t":36,"m":0.31,"lo":0.25,"hi":0.37},{"t":40,"m":0.3,"lo":0.24,"hi":0.36},{"t":44,"m":0.28,"lo":0.22,"hi":0.34},{"t":48,"m":0.26,"lo":0.19,"hi":0.33},{"t":52,"m":0.25,"lo":0.18,"hi":0.32},{"t":56,"m":0.23,"lo":0.16,"hi":0.3},{"t":60,"m":0.21,"lo":0.14,"hi":0.28}
],
"blank":[{"k":0}]
},
"columns":7,
"spacing":{"row":28,"column":0},
"bounds":"flush",
"align":"each",
"concat":[
  {"width":136,"height":107,"layer":[
   {"data":{"name":"w1"},"mark":{"type":"line","strokeWidth":1.3,"interpolate":"monotone"},"encoding":{
     "x":{"field":"t","type":"quantitative","scale":{"domain":[0,4.7],"nice":false,"zero":false},"axis":{"values":[0,2,4],"labels":false,"title":null}},
     "y":{"field":"v","type":"quantitative","scale":{"domain":[-1,1],"nice":false,"zero":false},"axis":{"values":[-1,0,1],"labelExpr":"datum.value + ''","title":null}},
     "color":{"field":"s","type":"nominal","scale":{"domain":["c1","c2","c3","c4","c5","c6","c7","c8"],"range":["#1b6496","#1f70a8","#17598a","#2680bf","#1d6aa0","#2a88c8","#3399dd","#1a5f90"]},"legend":null}}},
   {"data":{"values":[{"label":"A","t":-2.834,"v":1.878}]},"mark":{"type":"text","fontSize":14,"fontWeight":"bold","color":"#111"},"encoding":{"x":{"field":"t","type":"quantitative","scale":{"domain":[0,4.7],"nice":false,"zero":false}},"y":{"field":"v","type":"quantitative","scale":{"domain":[-1,1],"nice":false,"zero":false}},"text":{"field":"label"}}},
   {"data":{"values":[{"label":"Waveform","t":5.357,"v":1.86}]},"mark":{"type":"text","fontSize":18,"color":"#111"},"encoding":{"x":{"field":"t","type":"quantitative","scale":{"domain":[0,4.7],"nice":false,"zero":false}},"y":{"field":"v","type":"quantitative","scale":{"domain":[-1,1],"nice":false,"zero":false}},"text":{"field":"label"}}},
   {"data":{"values":[{"label":"Individual Cells","t":2.8,"v":1.355}]},"mark":{"type":"text","fontSize":15,"color":"#111"},"encoding":{"x":{"field":"t","type":"quantitative","scale":{"domain":[0,4.7],"nice":false,"zero":false}},"y":{"field":"v","type":"quantitative","scale":{"domain":[-1,1],"nice":false,"zero":false}},"text":{"field":"label"}}},
   {"data":{"values":[{"label":"BLG2","t":-3.42,"v":0.907}]},"mark":{"type":"text","fontSize":17,"align":"left","color":"#111"},"encoding":{"x":{"field":"t","type":"quantitative","scale":{"domain":[0,4.7],"nice":false,"zero":false}},"y":{"field":"v","type":"quantitative","scale":{"domain":[-1,1],"nice":false,"zero":false}},"text":{"field":"label"}}}
  ]},
  {"width":18,"height":107,"data":{"name":"blank"},"mark":{"type":"point","opacity":0},"encoding":{}},
  {"width":136,"height":107,"layer":[
   {"data":{"name":"w1m"},"mark":{"type":"area","color":"#92cbea","opacity":1,"interpolate":"monotone"},"encoding":{
     "x":{"field":"t","type":"quantitative","scale":{"domain":[0,4.7],"nice":false,"zero":false},"axis":{"values":[0,2,4],"labels":false,"title":null}},
     "y":{"field":"lo","type":"quantitative","scale":{"domain":[-1,1],"nice":false,"zero":false},"axis":{"values":[-1,0,1],"labels":false,"title":null}},
     "y2":{"field":"hi"}}},
   {"data":{"name":"w1m"},"mark":{"type":"line","color":"#2b8fd3","strokeWidth":1.3,"interpolate":"monotone"},"encoding":{"x":{"field":"t","type":"quantitative","scale":{"domain":[0,4.7],"nice":false,"zero":false}},"y":{"field":"m","type":"quantitative","scale":{"domain":[-1,1],"nice":false,"zero":false}}}},
   {"data":{"values":[{"v":0}]},"mark":{"type":"rule","color":"#222","strokeWidth":1,"strokeDash":[5,4]},"encoding":{"y":{"field":"v","type":"quantitative","scale":{"domain":[-1,1],"nice":false,"zero":false}}}},
   {"data":{"values":[{"t":1.9,"t2":1.9,"v":0,"v2":0.73},{"t":1.8,"t2":1.9,"v":0.73,"v2":0.73},{"t":1.8,"t2":1.9,"v":0,"v2":0}]},"mark":{"type":"rule","color":"#e8443a","strokeWidth":1.5},"encoding":{"x":{"field":"t","type":"quantitative","scale":{"domain":[0,4.7],"nice":false,"zero":false}},"x2":{"field":"t2"},"y":{"field":"v","type":"quantitative","scale":{"domain":[-1,1],"nice":false,"zero":false}},"y2":{"field":"v2"}}},
   {"data":{"values":[{"label":"a","t":2.28,"v":0.32}]},"mark":{"type":"text","fontSize":13,"color":"#111"},"encoding":{"x":{"field":"t","type":"quantitative","scale":{"domain":[0,4.7],"nice":false,"zero":false}},"y":{"field":"v","type":"quantitative","scale":{"domain":[-1,1],"nice":false,"zero":false}},"text":{"field":"label"}}},
   {"data":{"values":[{"label":"Group Mean","t":2.52,"v":1.355}]},"mark":{"type":"text","fontSize":15,"color":"#111"},"encoding":{"x":{"field":"t","type":"quantitative","scale":{"domain":[0,4.7],"nice":false,"zero":false}},"y":{"field":"v","type":"quantitative","scale":{"domain":[-1,1],"nice":false,"zero":false}},"text":{"field":"label"}}}
  ]},
  {"width":67,"height":107,"data":{"name":"blank"},"mark":{"type":"point","opacity":0},"encoding":{}},
  {"width":136,"height":107,"layer":[
   {"data":{"name":"a1"},"mark":{"type":"line","strokeWidth":1.1},"encoding":{
     "x":{"field":"t","type":"quantitative","scale":{"domain":[-60,60],"nice":false,"zero":false},"axis":{"values":[-60,0,60],"labels":false,"title":null}},
     "y":{"field":"v","type":"quantitative","scale":{"domain":[0,1],"nice":false,"zero":false},"axis":{"values":[0,0.5,1],"labelExpr":"datum.value + ''","title":null}},
     "color":{"field":"s","type":"nominal","scale":{"domain":["a1","a2","a3","a4","a5","a6"],"range":["#1a6aa0","#2a8ad0","#17598a","#1f74b0","#3398dc","#2580bf"]},"legend":null}}},
   {"data":{"values":[{"label":"B","t":-85.6,"v":1.44}]},"mark":{"type":"text","fontSize":14,"fontWeight":"bold","color":"#111"},"encoding":{"x":{"field":"t","type":"quantitative","scale":{"domain":[-60,60],"nice":false,"zero":false}},"y":{"field":"v","type":"quantitative","scale":{"domain":[0,1],"nice":false,"zero":false}},"text":{"field":"label"}}},
   {"data":{"values":[{"label":"Autocorrelogram","t":70.6,"v":1.43}]},"mark":{"type":"text","fontSize":17.5,"color":"#111"},"encoding":{"x":{"field":"t","type":"quantitative","scale":{"domain":[-60,60],"nice":false,"zero":false}},"y":{"field":"v","type":"quantitative","scale":{"domain":[0,1],"nice":false,"zero":false}},"text":{"field":"label"}}},
   {"data":{"values":[{"label":"Individual Cells","t":6.2,"v":1.178}]},"mark":{"type":"text","fontSize":15,"color":"#111"},"encoding":{"x":{"field":"t","type":"quantitative","scale":{"domain":[-60,60],"nice":false,"zero":false}},"y":{"field":"v","type":"quantitative","scale":{"domain":[0,1],"nice":false,"zero":false}},"text":{"field":"label"}}}
  ]},
  {"width":28,"height":107,"data":{"name":"blank"},"mark":{"type":"point","opacity":0},"encoding":{}},
  {"width":136,"height":107,"layer":[
   {"data":{"name":"a1m"},"mark":{"type":"area","color":"#92cbea","opacity":1},"encoding":{
     "x":{"field":"t","type":"quantitative","scale":{"domain":[-60,60],"nice":false,"zero":false},"axis":{"values":[-60,0,60],"labels":false,"title":null}},
     "y":{"field":"lo","type":"quantitative","scale":{"domain":[0,1],"nice":false,"zero":false},"axis":{"values":[0,0.5,1],"labels":false,"title":null}},
     "y2":{"field":"hi"}}},
   {"data":{"name":"a1m"},"mark":{"type":"line","color":"#2b8fd3","strokeWidth":1.2},"encoding":{"x":{"field":"t","type":"quantitative","scale":{"domain":[-60,60],"nice":false,"zero":false}},"y":{"field":"m","type":"quantitative","scale":{"domain":[0,1],"nice":false,"zero":false}}}},
   {"data":{"values":[{"t":-9.6,"t2":9.7,"v":1.03,"v2":1.03},{"t":-9.6,"t2":-9.6,"v":0.99,"v2":1.03},{"t":9.7,"t2":9.7,"v":0.99,"v2":1.03}]},"mark":{"type":"rule","color":"#e8443a","strokeWidth":1.5},"encoding":{"x":{"field":"t","type":"quantitative","scale":{"domain":[-60,60],"nice":false,"zero":false}},"x2":{"field":"t2"},"y":{"field":"v","type":"quantitative","scale":{"domain":[0,1],"nice":false,"zero":false}},"y2":{"field":"v2"}}},
   {"data":{"values":[{"label":"a","t":-1.5,"v":0.92}]},"mark":{"type":"text","fontSize":13,"color":"#111"},"encoding":{"x":{"field":"t","type":"quantitative","scale":{"domain":[-60,60],"nice":false,"zero":false}},"y":{"field":"v","type":"quantitative","scale":{"domain":[0,1],"nice":false,"zero":false}},"text":{"field":"label"}}},
   {"data":{"values":[{"label":"Group Mean","t":0,"v":1.178}]},"mark":{"type":"text","fontSize":15,"color":"#111"},"encoding":{"x":{"field":"t","type":"quantitative","scale":{"domain":[-60,60],"nice":false,"zero":false}},"y":{"field":"v","type":"quantitative","scale":{"domain":[0,1],"nice":false,"zero":false}},"text":{"field":"label"}}}
  ]},
  {"width":136,"height":107,"layer":[
   {"data":{"name":"w2"},"mark":{"type":"line","strokeWidth":1.3,"interpolate":"monotone"},"encoding":{
     "x":{"field":"t","type":"quantitative","scale":{"domain":[0,4.7],"nice":false,"zero":false},"axis":{"values":[0,2,4],"labels":false,"title":null}},
     "y":{"field":"v","type":"quantitative","scale":{"domain":[-1,1],"nice":false,"zero":false},"axis":{"values":[-1,0,1],"labelExpr":"datum.value + ''","title":"normalized amplitude","titlePadding":10}},
     "color":{"field":"s","type":"nominal","scale":{"domain":["e1","e2","e3","e4","e5"],"range":["#2a8ad0","#1b6aa0","#3598dc","#175a8a","#2480c0"]},"legend":null}}},
   {"data":{"values":[{"label":"MLG2","t":-3.42,"v":0.925}]},"mark":{"type":"text","fontSize":17,"align":"left","color":"#111"},"encoding":{"x":{"field":"t","type":"quantitative","scale":{"domain":[0,4.7],"nice":false,"zero":false}},"y":{"field":"v","type":"quantitative","scale":{"domain":[-1,1],"nice":false,"zero":false}},"text":{"field":"label"}}}
  ]},
  {"width":18,"height":107,"data":{"name":"blank"},"mark":{"type":"point","opacity":0},"encoding":{}},
  {"width":136,"height":107,"layer":[
   {"data":{"name":"w2m"},"mark":{"type":"area","color":"#92cbea","opacity":1,"interpolate":"monotone"},"encoding":{
     "x":{"field":"t","type":"quantitative","scale":{"domain":[0,4.7],"nice":false,"zero":false},"axis":{"values":[0,2,4],"labels":false,"title":null}},
     "y":{"field":"lo","type":"quantitative","scale":{"domain":[-1,1],"nice":false,"zero":false},"axis":{"values":[-1,0,1],"labels":false,"title":null}},
     "y2":{"field":"hi"}}},
   {"data":{"name":"w2m"},"mark":{"type":"line","color":"#2b8fd3","strokeWidth":1.3,"interpolate":"monotone"},"encoding":{"x":{"field":"t","type":"quantitative","scale":{"domain":[0,4.7],"nice":false,"zero":false}},"y":{"field":"m","type":"quantitative","scale":{"domain":[-1,1],"nice":false,"zero":false}}}},
   {"data":{"values":[{"v":0}]},"mark":{"type":"rule","color":"#222","strokeWidth":1,"strokeDash":[5,4]},"encoding":{"y":{"field":"v","type":"quantitative","scale":{"domain":[-1,1],"nice":false,"zero":false}}}},
   {"data":{"values":[{"t":1.9,"t2":1.9,"v":0,"v2":0.09},{"t":1.85,"t2":1.9,"v":0.09,"v2":0.09},{"t":1.85,"t2":1.9,"v":0,"v2":0}]},"mark":{"type":"rule","color":"#e8443a","strokeWidth":1.5},"encoding":{"x":{"field":"t","type":"quantitative","scale":{"domain":[0,4.7],"nice":false,"zero":false}},"x2":{"field":"t2"},"y":{"field":"v","type":"quantitative","scale":{"domain":[-1,1],"nice":false,"zero":false}},"y2":{"field":"v2"}}},
   {"data":{"values":[{"label":"b","t":2.28,"v":0.08}]},"mark":{"type":"text","fontSize":13,"color":"#111"},"encoding":{"x":{"field":"t","type":"quantitative","scale":{"domain":[0,4.7],"nice":false,"zero":false}},"y":{"field":"v","type":"quantitative","scale":{"domain":[-1,1],"nice":false,"zero":false}},"text":{"field":"label"}}}
  ]},
  {"width":67,"height":107,"data":{"name":"blank"},"mark":{"type":"point","opacity":0},"encoding":{}},
  {"width":136,"height":107,"layer":[
   {"data":{"name":"a2"},"mark":{"type":"line","strokeWidth":1.1},"encoding":{
     "x":{"field":"t","type":"quantitative","scale":{"domain":[-60,60],"nice":false,"zero":false},"axis":{"values":[-60,0,60],"labels":false,"title":null}},
     "y":{"field":"v","type":"quantitative","scale":{"domain":[0,1],"nice":false,"zero":false},"axis":{"values":[0,0.5,1],"labelExpr":"datum.value + ''","title":"normalized spike count","titlePadding":2}},
     "color":{"field":"s","type":"nominal","scale":{"domain":["b1","b2","b3","b4","b5"],"range":["#3399dd","#17598a","#2b8fd3","#1b6496","#2178b5"]},"legend":null}}}
  ]},
  {"width":28,"height":107,"data":{"name":"blank"},"mark":{"type":"point","opacity":0},"encoding":{}},
  {"width":136,"height":107,"layer":[
   {"data":{"name":"a2m"},"mark":{"type":"area","color":"#92cbea","opacity":1},"encoding":{
     "x":{"field":"t","type":"quantitative","scale":{"domain":[-60,60],"nice":false,"zero":false},"axis":{"values":[-60,0,60],"labels":false,"title":null}},
     "y":{"field":"lo","type":"quantitative","scale":{"domain":[0,1],"nice":false,"zero":false},"axis":{"values":[0,0.5,1],"labels":false,"title":null}},
     "y2":{"field":"hi"}}},
   {"data":{"name":"a2m"},"mark":{"type":"line","color":"#2b8fd3","strokeWidth":1.2},"encoding":{"x":{"field":"t","type":"quantitative","scale":{"domain":[-60,60],"nice":false,"zero":false}},"y":{"field":"m","type":"quantitative","scale":{"domain":[0,1],"nice":false,"zero":false}}}},
   {"data":{"values":[{"t":-4.2,"t2":4.4,"v":1.025,"v2":1.025},{"t":-4.2,"t2":-4.2,"v":1.0,"v2":1.025},{"t":4.4,"t2":4.4,"v":1.0,"v2":1.025}]},"mark":{"type":"rule","color":"#e8443a","strokeWidth":1.5},"encoding":{"x":{"field":"t","type":"quantitative","scale":{"domain":[-60,60],"nice":false,"zero":false}},"x2":{"field":"t2"},"y":{"field":"v","type":"quantitative","scale":{"domain":[0,1],"nice":false,"zero":false}},"y2":{"field":"v2"}}},
   {"data":{"values":[{"label":"b","t":-0.7,"v":0.93}]},"mark":{"type":"text","fontSize":13,"color":"#111"},"encoding":{"x":{"field":"t","type":"quantitative","scale":{"domain":[-60,60],"nice":false,"zero":false}},"y":{"field":"v","type":"quantitative","scale":{"domain":[0,1],"nice":false,"zero":false}},"text":{"field":"label"}}}
  ]},
  {"width":136,"height":107,"layer":[
   {"data":{"name":"w3"},"mark":{"type":"line","strokeWidth":1.3,"interpolate":"monotone"},"encoding":{
     "x":{"field":"t","type":"quantitative","scale":{"domain":[0,4.7],"nice":false,"zero":false},"axis":{"values":[0,2,4],"labelExpr":"datum.value + ''","title":"time(ms)"}},
     "y":{"field":"v","type":"quantitative","scale":{"domain":[-1,1],"nice":false,"zero":false},"axis":{"values":[-1,0,1],"labelExpr":"datum.value + ''","title":null}},
     "color":{"field":"s","type":"nominal","scale":{"domain":["f1","f2","f3","f4","f5"],"range":["#2a8ad0","#1b6aa0","#3598dc","#175a8a","#2480c0"]},"legend":null}}},
   {"data":{"values":[{"label":"LCDC","t":-3.42,"v":0.89}]},"mark":{"type":"text","fontSize":17,"align":"left","color":"#111"},"encoding":{"x":{"field":"t","type":"quantitative","scale":{"domain":[0,4.7],"nice":false,"zero":false}},"y":{"field":"v","type":"quantitative","scale":{"domain":[-1,1],"nice":false,"zero":false}},"text":{"field":"label"}}}
  ]},
  {"width":18,"height":107,"data":{"name":"blank"},"mark":{"type":"point","opacity":0},"encoding":{}},
  {"width":136,"height":107,"layer":[
   {"data":{"name":"w3m"},"mark":{"type":"area","color":"#92cbea","opacity":1,"interpolate":"monotone"},"encoding":{
     "x":{"field":"t","type":"quantitative","scale":{"domain":[0,4.7],"nice":false,"zero":false},"axis":{"values":[0,2,4],"labelExpr":"datum.value + ''","title":"time(ms)"}},
     "y":{"field":"lo","type":"quantitative","scale":{"domain":[-1,1],"nice":false,"zero":false},"axis":{"values":[-1,0,1],"labels":false,"title":null}},
     "y2":{"field":"hi"}}},
   {"data":{"name":"w3m"},"mark":{"type":"line","color":"#2b8fd3","strokeWidth":1.3,"interpolate":"monotone"},"encoding":{"x":{"field":"t","type":"quantitative","scale":{"domain":[0,4.7],"nice":false,"zero":false}},"y":{"field":"m","type":"quantitative","scale":{"domain":[-1,1],"nice":false,"zero":false}}}},
   {"data":{"values":[{"v":0}]},"mark":{"type":"rule","color":"#222","strokeWidth":1,"strokeDash":[5,4]},"encoding":{"y":{"field":"v","type":"quantitative","scale":{"domain":[-1,1],"nice":false,"zero":false}}}},
   {"data":{"values":[{"t":1.9,"t2":1.9,"v":0,"v2":0.12},{"t":1.85,"t2":1.9,"v":0.12,"v2":0.12},{"t":1.85,"t2":1.9,"v":0,"v2":0}]},"mark":{"type":"rule","color":"#e8443a","strokeWidth":1.5},"encoding":{"x":{"field":"t","type":"quantitative","scale":{"domain":[0,4.7],"nice":false,"zero":false}},"x2":{"field":"t2"},"y":{"field":"v","type":"quantitative","scale":{"domain":[-1,1],"nice":false,"zero":false}},"y2":{"field":"v2"}}},
   {"data":{"values":[{"label":"b","t":2.28,"v":0.1}]},"mark":{"type":"text","fontSize":13,"color":"#111"},"encoding":{"x":{"field":"t","type":"quantitative","scale":{"domain":[0,4.7],"nice":false,"zero":false}},"y":{"field":"v","type":"quantitative","scale":{"domain":[-1,1],"nice":false,"zero":false}},"text":{"field":"label"}}}
  ]},
  {"width":67,"height":107,"data":{"name":"blank"},"mark":{"type":"point","opacity":0},"encoding":{}},
  {"width":136,"height":107,"layer":[
   {"data":{"name":"a3"},"mark":{"type":"line","strokeWidth":1.1},"encoding":{
     "x":{"field":"t","type":"quantitative","scale":{"domain":[-60,60],"nice":false,"zero":false},"axis":{"values":[-60,0,60],"labelExpr":"datum.value + ''","title":"time (ms)"}},
     "y":{"field":"v","type":"quantitative","scale":{"domain":[0,1],"nice":false,"zero":false},"axis":{"values":[0,0.5,1],"labelExpr":"datum.value + ''","title":null}},
     "color":{"field":"s","type":"nominal","scale":{"domain":["d","l1","l2","l3"],"range":["#17598a","#2b8fd3","#3399dd","#2580bf"]},"legend":null}}}
  ]},
  {"width":28,"height":107,"data":{"name":"blank"},"mark":{"type":"point","opacity":0},"encoding":{}},
  {"width":136,"height":107,"layer":[
   {"data":{"name":"a3m"},"mark":{"type":"area","color":"#92cbea","opacity":1},"encoding":{
     "x":{"field":"t","type":"quantitative","scale":{"domain":[-60,60],"nice":false,"zero":false},"axis":{"values":[-60,0,60],"labelExpr":"datum.value + ''","title":"time (ms)"}},
     "y":{"field":"lo","type":"quantitative","scale":{"domain":[0,1],"nice":false,"zero":false},"axis":{"values":[0,0.5,1],"labels":false,"title":null}},
     "y2":{"field":"hi"}}},
   {"data":{"name":"a3m"},"mark":{"type":"line","color":"#2b8fd3","strokeWidth":1.2},"encoding":{"x":{"field":"t","type":"quantitative","scale":{"domain":[-60,60],"nice":false,"zero":false}},"y":{"field":"m","type":"quantitative","scale":{"domain":[0,1],"nice":false,"zero":false}}}},
   {"data":{"values":[{"t":-13.3,"t2":14,"v":1.02,"v2":1.02},{"t":-13.3,"t2":-13.3,"v":0.99,"v2":1.02},{"t":14,"t2":14,"v":0.99,"v2":1.02}]},"mark":{"type":"rule","color":"#e8443a","strokeWidth":1.5},"encoding":{"x":{"field":"t","type":"quantitative","scale":{"domain":[-60,60],"nice":false,"zero":false}},"x2":{"field":"t2"},"y":{"field":"v","type":"quantitative","scale":{"domain":[0,1],"nice":false,"zero":false}},"y2":{"field":"v2"}}},
   {"data":{"values":[{"label":"c","t":-0.8,"v":0.905}]},"mark":{"type":"text","fontSize":13,"color":"#111"},"encoding":{"x":{"field":"t","type":"quantitative","scale":{"domain":[-60,60],"nice":false,"zero":false}},"y":{"field":"v","type":"quantitative","scale":{"domain":[0,1],"nice":false,"zero":false}},"text":{"field":"label"}}}
  ]}
]
}
